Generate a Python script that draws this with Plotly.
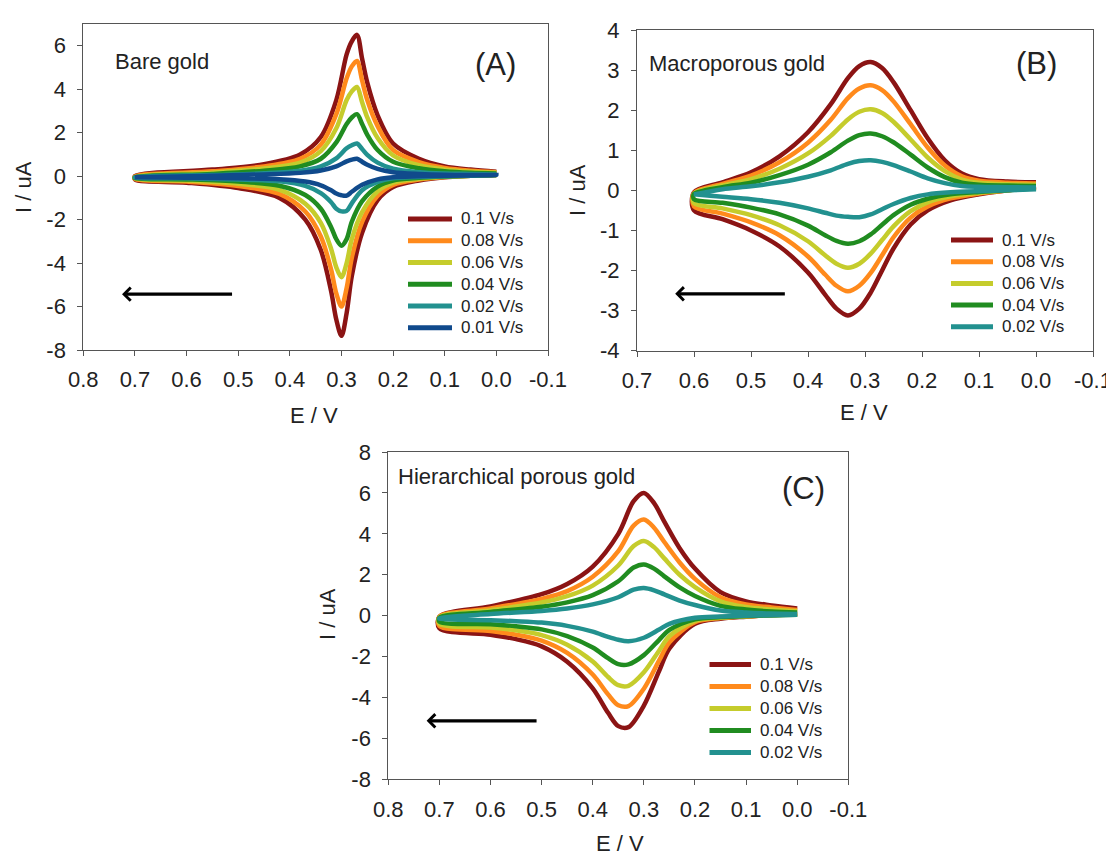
import plotly.graph_objects as go

W, H = 1114, 855
OFF = 8  # the page body margin shifts the figure by 8 px
FONT = "Liberation Sans, Arial, sans-serif"

rates_A = ["0.1 V/s", "0.08 V/s", "0.06 V/s", "0.04 V/s", "0.02 V/s", "0.01 V/s"]
rates_BC = ["0.1 V/s", "0.08 V/s", "0.06 V/s", "0.04 V/s", "0.02 V/s"]
colors = ["#8b1414", "#ff8a1c", "#c5cc2c", "#208c20", "#22918f", "#104a8c"]

x_ticks_A = [0.8, 0.7, 0.6, 0.5, 0.4, 0.3, 0.2, 0.1, 0.0, -0.1]
x_ticks_B = [0.7, 0.6, 0.5, 0.4, 0.3, 0.2, 0.1, 0.0, -0.1]
y_ticks_A = [-8, -6, -4, -2, 0, 2, 4, 6]
y_ticks_B = [-4, -3, -2, -1, 0, 1, 2, 3, 4]
y_ticks_C = [-8, -6, -4, -2, 0, 2, 4, 6, 8]

# ---- Panel A : Bare gold ----
EA_up = [0.0, 0.05, 0.1, 0.15, 0.2, 0.23, 0.25, 0.26, 0.27, 0.28, 0.29, 0.31, 0.34, 0.38, 0.45, 0.55, 0.7]
EA_dn = [0.7, 0.6, 0.5, 0.42, 0.37, 0.34, 0.32, 0.31, 0.30, 0.29, 0.28, 0.26, 0.23, 0.2, 0.15, 0.1, 0.0]
IA_up_010 = [0.2, 0.3, 0.45, 0.8, 1.5, 2.8, 4.3, 5.4, 6.5, 6.2, 5.6, 3.5, 1.8, 1.0, 0.55, 0.3, 0.0]
IA_up_008 = [0.18, 0.25, 0.38, 0.65, 1.2, 2.3, 3.5, 4.4, 5.3, 5.05, 4.5, 2.85, 1.45, 0.8, 0.45, 0.22, -0.02]
IA_up_006 = [0.15, 0.2, 0.3, 0.5, 0.95, 1.75, 2.7, 3.4, 4.1, 3.9, 3.5, 2.2, 1.15, 0.62, 0.35, 0.16, -0.04]
IA_up_004 = [0.12, 0.15, 0.22, 0.36, 0.66, 1.2, 1.9, 2.4, 2.85, 2.7, 2.4, 1.55, 0.8, 0.45, 0.25, 0.1, -0.05]
IA_up_002 = [0.08, 0.1, 0.12, 0.18, 0.34, 0.62, 0.98, 1.25, 1.5, 1.42, 1.28, 0.82, 0.45, 0.25, 0.13, 0.05, -0.05]
IA_up_001 = [0.05, 0.05, 0.06, 0.1, 0.18, 0.33, 0.52, 0.66, 0.8, 0.76, 0.68, 0.45, 0.26, 0.15, 0.08, 0.02, -0.05]
IA_dn_010 = [-0.15, -0.3, -0.55, -1.0, -2.0, -3.4, -5.3, -6.6, -7.35, -6.3, -4.6, -2.6, -1.1, -0.5, -0.2, -0.05, 0.05]
IA_dn_008 = [-0.13, -0.25, -0.45, -0.82, -1.63, -2.78, -4.3, -5.4, -6.0, -5.15, -3.75, -2.1, -0.9, -0.4, -0.16, -0.04, 0.05]
IA_dn_006 = [-0.11, -0.2, -0.35, -0.63, -1.27, -2.15, -3.35, -4.2, -4.65, -4.0, -2.9, -1.65, -0.7, -0.3, -0.12, -0.03, 0.05]
IA_dn_004 = [-0.09, -0.15, -0.25, -0.44, -0.87, -1.5, -2.35, -2.9, -3.2, -2.9, -2.1, -1.15, -0.48, -0.2, -0.08, -0.02, 0.05]
IA_dn_002 = [-0.07, -0.1, -0.15, -0.24, -0.45, -0.78, -1.2, -1.5, -1.62, -1.6, -1.25, -0.65, -0.27, -0.1, -0.04, 0.0, 0.05]
IA_dn_001 = [-0.05, -0.07, -0.1, -0.14, -0.25, -0.42, -0.65, -0.8, -0.88, -0.9, -0.72, -0.4, -0.15, -0.05, -0.01, 0.02, 0.05]

# ---- Panel B : Macroporous gold ----
EB_up = [0.0, 0.05, 0.1, 0.13, 0.16, 0.19, 0.22, 0.25, 0.27, 0.29, 0.31, 0.33, 0.36, 0.4, 0.45, 0.5, 0.55, 0.6]
EB_dn = [0.6, 0.55, 0.5, 0.45, 0.4, 0.37, 0.35, 0.33, 0.31, 0.29, 0.27, 0.25, 0.22, 0.19, 0.15, 0.1, 0.05, 0.0]
IB_up_010 = [0.2, 0.22, 0.28, 0.42, 0.75, 1.3, 2.0, 2.7, 3.05, 3.2, 3.1, 2.8, 2.15, 1.45, 0.85, 0.45, 0.2, -0.05]
IB_up_008 = [0.17, 0.19, 0.24, 0.35, 0.62, 1.07, 1.65, 2.22, 2.5, 2.62, 2.54, 2.3, 1.76, 1.19, 0.7, 0.37, 0.16, -0.07]
IB_up_006 = [0.14, 0.15, 0.19, 0.27, 0.48, 0.82, 1.27, 1.71, 1.93, 2.02, 1.96, 1.77, 1.36, 0.92, 0.54, 0.28, 0.12, -0.08]
IB_up_004 = [0.11, 0.12, 0.14, 0.19, 0.33, 0.57, 0.89, 1.2, 1.35, 1.42, 1.38, 1.24, 0.95, 0.64, 0.38, 0.19, 0.08, -0.09]
IB_up_002 = [0.07, 0.08, 0.09, 0.11, 0.18, 0.3, 0.47, 0.63, 0.71, 0.75, 0.73, 0.66, 0.5, 0.34, 0.2, 0.1, 0.03, -0.1]
IB_dn_010 = [-0.5, -0.72, -1.0, -1.4, -2.05, -2.6, -2.95, -3.12, -2.95, -2.55, -2.0, -1.45, -0.85, -0.5, -0.25, -0.1, 0.0, 0.1]
IB_dn_008 = [-0.4, -0.58, -0.8, -1.12, -1.65, -2.1, -2.38, -2.52, -2.38, -2.06, -1.62, -1.17, -0.68, -0.4, -0.2, -0.08, 0.0, 0.08]
IB_dn_006 = [-0.32, -0.45, -0.62, -0.87, -1.27, -1.62, -1.83, -1.93, -1.83, -1.58, -1.24, -0.9, -0.52, -0.3, -0.15, -0.06, 0.0, 0.07]
IB_dn_004 = [-0.22, -0.31, -0.43, -0.6, -0.88, -1.12, -1.26, -1.33, -1.27, -1.1, -0.86, -0.62, -0.36, -0.21, -0.1, -0.04, 0.0, 0.05]
IB_dn_002 = [-0.1, -0.16, -0.22, -0.31, -0.45, -0.56, -0.63, -0.66, -0.67, -0.6, -0.47, -0.34, -0.19, -0.1, -0.05, -0.02, 0.0, 0.03]

# ---- Panel C : Hierarchical porous gold ----
EC_up = [0.0, 0.05, 0.1, 0.15, 0.2, 0.23, 0.26, 0.28, 0.3, 0.32, 0.35, 0.4, 0.45, 0.5, 0.6, 0.7]
EC_dn = [0.7, 0.6, 0.55, 0.5, 0.45, 0.4, 0.37, 0.35, 0.33, 0.3, 0.27, 0.25, 0.2, 0.15, 0.1, 0.0]
IC_up_010 = [0.35, 0.5, 0.7, 1.15, 2.3, 3.3, 4.6, 5.5, 6.0, 5.6, 4.0, 2.4, 1.55, 1.05, 0.45, -0.05]
IC_up_008 = [0.28, 0.4, 0.55, 0.9, 1.8, 2.6, 3.6, 4.3, 4.7, 4.4, 3.15, 1.9, 1.2, 0.82, 0.35, -0.05]
IC_up_006 = [0.22, 0.3, 0.42, 0.7, 1.4, 2.0, 2.8, 3.35, 3.65, 3.4, 2.45, 1.47, 0.95, 0.64, 0.27, -0.08]
IC_up_004 = [0.15, 0.2, 0.3, 0.48, 0.96, 1.38, 1.92, 2.3, 2.5, 2.35, 1.68, 1.0, 0.65, 0.44, 0.18, -0.1]
IC_up_002 = [0.08, 0.1, 0.15, 0.25, 0.52, 0.74, 1.04, 1.24, 1.35, 1.27, 0.9, 0.55, 0.35, 0.23, 0.08, -0.12]
IC_dn_010 = [-0.62, -0.93, -1.15, -1.5, -2.25, -3.55, -4.75, -5.4, -5.45, -4.4, -2.7, -1.6, -0.4, -0.15, -0.05, 0.1]
IC_dn_008 = [-0.5, -0.75, -0.93, -1.22, -1.82, -2.88, -3.85, -4.38, -4.42, -3.57, -2.19, -1.3, -0.32, -0.12, -0.04, 0.08]
IC_dn_006 = [-0.4, -0.58, -0.72, -0.95, -1.42, -2.24, -3.0, -3.4, -3.43, -2.77, -1.7, -1.0, -0.25, -0.1, -0.03, 0.07]
IC_dn_004 = [-0.3, -0.42, -0.52, -0.67, -1.0, -1.56, -2.08, -2.37, -2.38, -1.93, -1.18, -0.7, -0.18, -0.07, -0.02, 0.05]
IC_dn_002 = [-0.15, -0.22, -0.27, -0.34, -0.5, -0.78, -1.04, -1.18, -1.25, -1.08, -0.68, -0.4, -0.1, -0.04, 0.0, 0.04]

panels = [
    dict(E_up=EA_up, E_dn=EA_dn, labels=rates_A,
         up=[IA_up_010, IA_up_008, IA_up_006, IA_up_004, IA_up_002, IA_up_001],
         dn=[IA_dn_010, IA_dn_008, IA_dn_006, IA_dn_004, IA_dn_002, IA_dn_001],
         xa="x", ya="y"),
    dict(E_up=EB_up, E_dn=EB_dn, labels=rates_BC,
         up=[IB_up_010, IB_up_008, IB_up_006, IB_up_004, IB_up_002],
         dn=[IB_dn_010, IB_dn_008, IB_dn_006, IB_dn_004, IB_dn_002],
         xa="x2", ya="y2"),
    dict(E_up=EC_up, E_dn=EC_dn, labels=rates_BC,
         up=[IC_up_010, IC_up_008, IC_up_006, IC_up_004, IC_up_002],
         dn=[IC_dn_010, IC_dn_008, IC_dn_006, IC_dn_004, IC_dn_002],
         xa="x3", ya="y3"),
]

fig = go.Figure()
for p in panels:
    for i, lab in enumerate(p["labels"]):
        fig.add_trace(go.Scatter(
            x=p["E_up"] + p["E_dn"], y=p["up"][i] + p["dn"][i],
            mode="lines", name=lab,
            line=dict(color=colors[i], width=4.5, shape="spline", smoothing=0.9),
            xaxis=p["xa"], yaxis=p["ya"], showlegend=False,
        ))


def px(x):
    return (x - OFF) / W


def py(y):
    return 1 - (y - OFF) / H


def lab(v, fmt):
    return (fmt % v).replace("−", "-")


axis_common = dict(showline=True, mirror=True, linecolor="#555", linewidth=1,
                   ticks="outside", ticklen=5, tickcolor="#555", showgrid=False,
                   zeroline=False, automargin=False,
                   tickfont=dict(family=FONT, size=22, color="#222"))
xcommon = dict(ticklabelstandoff=5, **axis_common)
ycommon = dict(ticklabelstandoff=7, **axis_common)

fig.update_layout(
    template="none",
    width=W, height=H, margin=dict(l=0, r=0, t=0, b=0, pad=0, autoexpand=False),
    paper_bgcolor="white", plot_bgcolor="white",
    font=dict(family=FONT, color="#222"),
    xaxis=dict(domain=[px(83.3), px(548)], range=[0.8, -0.1], tickvals=x_ticks_A,
               ticktext=[lab(v, "%.1f") for v in x_ticks_A], anchor="y", **xcommon),
    yaxis=dict(domain=[py(350), py(24)], range=[-8, 7], tickvals=y_ticks_A,
               ticktext=[lab(v, "%d") for v in y_ticks_A], anchor="x", **ycommon),
    xaxis2=dict(domain=[px(637), px(1093)], range=[0.7, -0.1], tickvals=x_ticks_B,
                ticktext=[lab(v, "%.1f") for v in x_ticks_B], anchor="y2", **xcommon),
    yaxis2=dict(domain=[py(350.7), py(30)], range=[-4, 4], tickvals=y_ticks_B,
                ticktext=[lab(v, "%d") for v in y_ticks_B], anchor="x2", **ycommon),
    xaxis3=dict(domain=[px(388.3), px(848.3)], range=[0.8, -0.1], tickvals=x_ticks_A,
                ticktext=[lab(v, "%.1f") for v in x_ticks_A], anchor="y3", **xcommon),
    yaxis3=dict(domain=[py(779.3), py(452)], range=[-8, 8], tickvals=y_ticks_C,
                ticktext=[lab(v, "%d") for v in y_ticks_C], anchor="x3", **ycommon),
)

ann = []
shapes = []


def txt(x, y, s, size, xanchor="left"):
    ann.append(dict(x=px(x), y=py(y), xref="paper", yref="paper", text=s, showarrow=False,
                    xanchor=xanchor, yanchor="middle", font=dict(family=FONT, size=size, color="#222")))


def vtxt(x, y, s, size):
    ann.append(dict(x=px(x), y=py(y), xref="paper", yref="paper", text=s, showarrow=False,
                    textangle=-90, xanchor="center", yanchor="middle",
                    font=dict(family=FONT, size=size, color="#222")))


# legends (line sample + label per scan rate)
def legend(labels, x0, x1, xt, y0, dy):
    for i, s in enumerate(labels):
        yy = y0 + i * dy
        shapes.append(dict(type="line", xref="paper", yref="paper", x0=px(x0), x1=px(x1),
                           y0=py(yy), y1=py(yy), line=dict(color=colors[i], width=5)))
        txt(xt, yy, s, 17)


legend(rates_A, 408, 452, 459, 219, 21.75)
legend(rates_BC, 951, 993, 1000, 240, 21.7)
legend(rates_BC, 709.5, 751, 758, 664.5, 22)

txt(113, 62, "Bare gold", 22)
txt(495, 65, "(A)", 31, "center")
txt(647, 63, "Macroporous gold", 22)
txt(1036, 63, "(B)", 31, "center")
txt(396, 476, "Hierarchical porous gold", 22)
txt(803, 488, "(C)", 31, "center")
txt(314, 415, "E / V", 22, "center")
txt(864, 413, "E / V", 22, "center")
txt(620, 843, "E / V", 22, "center")
vtxt(23, 187, "I / uA", 22)
vtxt(577, 190, "I / uA", 22)
vtxt(327, 614, "I / uA", 22)

# scan-direction arrows (data coordinates)
arrows = [("x", "y", 0.509, 0.725, -5.43), ("x2", "y2", 0.438, 0.633, -2.58), ("x3", "y3", 0.507, 0.725, -5.14)]
for xa, ya, x0, x1, yv in arrows:
    ann.append(dict(x=x1, y=yv, ax=x0, ay=yv, xref=xa, yref=ya, axref=xa, ayref=ya,
                    showarrow=True, arrowhead=4, arrowsize=0.8, arrowwidth=3.2,
                    arrowcolor="black", text=""))

fig.update_layout(annotations=ann, shapes=shapes)
fig.write_html("out.html")
